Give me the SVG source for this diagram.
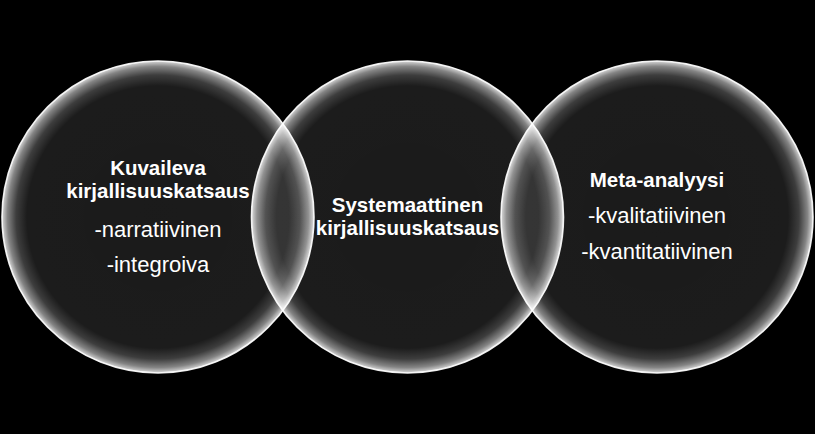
<svg xmlns="http://www.w3.org/2000/svg" width="815" height="434" viewBox="0 0 815 434">
  <defs>
    <radialGradient id="glow" cx="0.5" cy="0.5" r="0.5">
      <stop offset="0" stop-color="#ffffff" stop-opacity="0.105"/>
      <stop offset="0.84" stop-color="#ffffff" stop-opacity="0.11"/>
      <stop offset="0.91" stop-color="#ffffff" stop-opacity="0.24"/>
      <stop offset="0.965" stop-color="#ffffff" stop-opacity="0.52"/>
      <stop offset="1" stop-color="#ffffff" stop-opacity="0.85"/>
    </radialGradient>
  </defs>
  <style>
    .c { fill: url(#glow); stroke: #ffffff; stroke-opacity: 0.92; stroke-width: 1.6; }
    .b { font-family: "Liberation Sans", Arial, sans-serif; font-weight: bold; font-size: 20.5px; fill: #ffffff; text-anchor: middle; }
    .r { font-family: "Liberation Sans", Arial, sans-serif; font-size: 22px; fill: #ffffff; text-anchor: middle; }
  </style>
  <rect x="0" y="0" width="815" height="434" fill="#000000"/>
  <g id="connectors"/>
  <g id="node-kuvaileva">
    <circle class="c" cx="158" cy="217" r="156"/>
    <text class="b" x="158" y="175">Kuvaileva</text>
    <text class="b" x="158" y="198">kirjallisuuskatsaus</text>
    <text class="r" x="158" y="237">-narratiivinen</text>
    <text class="r" x="158" y="272">-integroiva</text>
  </g>
  <g id="node-systemaattinen">
    <circle class="c" cx="407.5" cy="217" r="156"/>
    <text class="b" x="407.5" y="212">Systemaattinen</text>
    <text class="b" x="407.5" y="235">kirjallisuuskatsaus</text>
  </g>
  <g id="node-meta">
    <circle class="c" cx="657" cy="217" r="156"/>
    <text class="b" x="657" y="187">Meta-analyysi</text>
    <text class="r" x="657" y="223">-kvalitatiivinen</text>
    <text class="r" x="657" y="259">-kvantitatiivinen</text>
  </g>
</svg>
